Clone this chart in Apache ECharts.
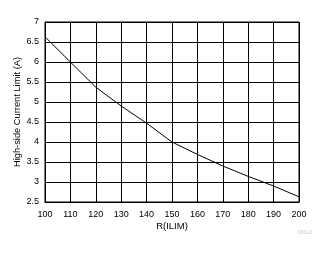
<!DOCTYPE html>
<html><head><meta charset="utf-8">
<script src="https://cdn.jsdelivr.net/npm/echarts@6/dist/echarts.min.js"></script>
<style>html,body{margin:0;padding:0;background:#fff}#c{width:328px;height:254px}</style>
</head><body><div id="c"></div>
<script>
const rIlim = [100, 110, 120, 130, 140, 150, 160, 170, 180, 190, 200];
const currentLimit = [6.63, 6.0, 5.37, 4.9, 4.47, 4.0, 3.69, 3.40, 3.14, 2.90, 2.63];
const xTitle = 'R(ILIM)';
const yTitle = 'High-side Current Limit (A)';
const watermark = 'D012';
const font = '"Liberation Sans", Arial, sans-serif';

const chart = echarts.init(document.getElementById('c'), null, {renderer: 'canvas'});
chart.setOption({
  animation: false,
  backgroundColor: '#fff',
  grid: {left: 45, right: 29, top: 22, bottom: 52, show: true, borderColor: '#000', borderWidth: 1,
         containLabel: false, outerBoundsMode: 'none'},
  graphic: [{type: 'text', right: 16, top: 229, style: {text: watermark, fill: '#c8c8c8', font: '6px ' + font}}],
  xAxis: {
    type: 'value', min: 100, max: 200, interval: 10,
    name: xTitle, nameLocation: 'middle', nameGap: 19, nameMoveOverlap: false,
    nameTextStyle: {color: '#000', fontSize: 9.5, fontFamily: font},
    axisLine: {show: true, lineStyle: {color: '#000', width: 1}},
    axisTick: {show: false},
    axisLabel: {color: '#000', fontSize: 9, fontFamily: font, margin: 8},
    splitLine: {show: true, lineStyle: {color: '#000', width: 1}}
  },
  yAxis: {
    type: 'value', min: 2.5, max: 7, interval: 0.5,
    name: yTitle, nameLocation: 'middle', nameGap: 23, nameMoveOverlap: false,
    nameTextStyle: {color: '#000', fontSize: 9.3, fontFamily: font},
    axisLine: {show: true, lineStyle: {color: '#000', width: 1}},
    axisTick: {show: false},
    axisLabel: {color: '#000', fontSize: 9, fontFamily: font, margin: 6},
    splitLine: {show: true, lineStyle: {color: '#000', width: 1}}
  },
  series: [{
    type: 'line', data: rIlim.map((x, i) => [x, currentLimit[i]]),
    showSymbol: false, lineStyle: {color: '#000', width: 1}
  }]
});
</script></body></html>
